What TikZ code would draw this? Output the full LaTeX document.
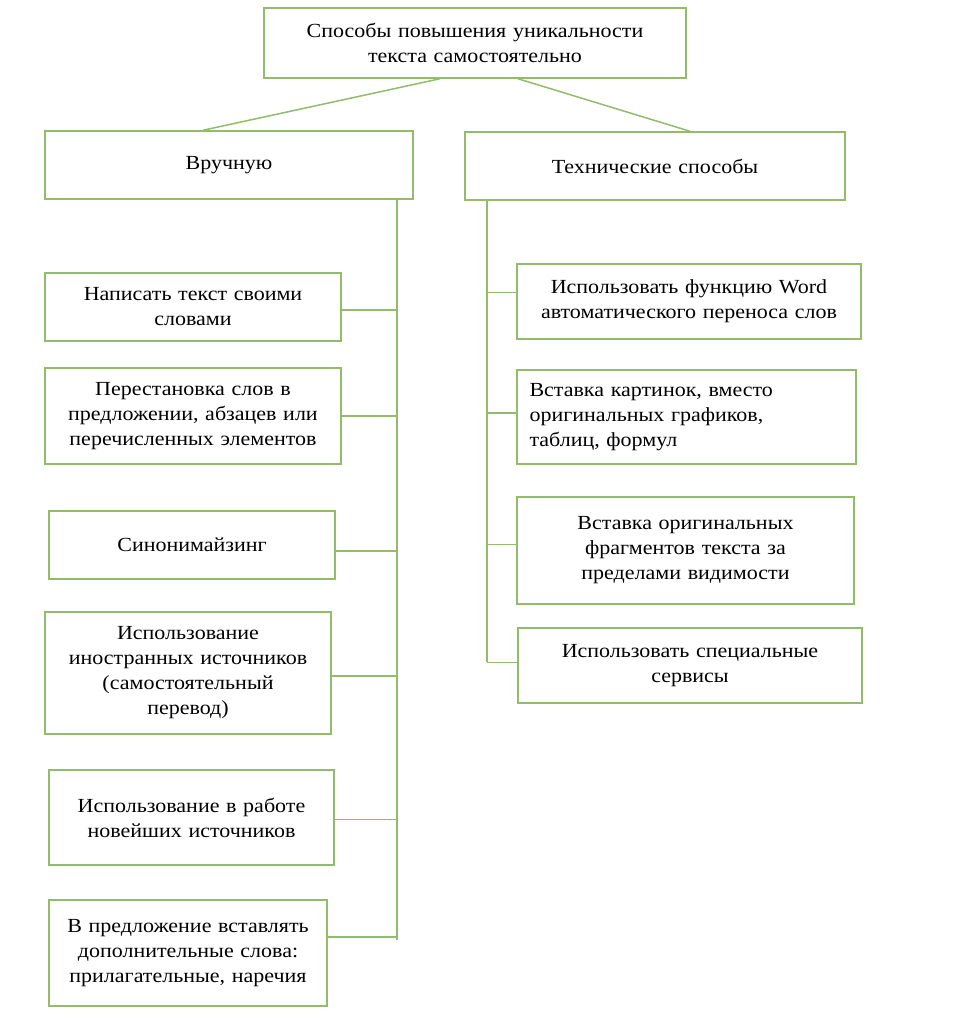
\documentclass[tikz,border=0pt]{standalone}
\usepackage{fontspec}
\setmainfont{Liberation Serif}[FakeStretch=1.1]
\usetikzlibrary{calc}
\definecolor{boxgreen}{RGB}{146,188,108}
\tikzstyle{every node}=[font=\fontsize{20}{25}\selectfont]
\tikzstyle{block} = [rectangle, draw=boxgreen, line width=1.5pt, inner sep=0pt, align=center]
\tikzstyle{link} = [draw=boxgreen, line width=1.5pt]

\begin{document}
\begin{tikzpicture}[x=1pt, y=-1pt]
            \useasboundingbox (0,0) rectangle (956,1029);
            \node (top) [block, minimum width=422pt, minimum height=70pt, text width=410pt] at (475,43) {Способы повышения уникальности\\текста самостоятельно};
            \node (manual) [block, minimum width=368pt, minimum height=68pt, text width=356pt] at (229,165) {Вручную};
            \node (tech) [block, minimum width=380pt, minimum height=68pt, text width=368pt] at (655,166) {Технические способы};
            % ручные способы
            \node (own) [block, minimum width=296pt, minimum height=68pt, text width=284pt] at (193,307) {Написать текст своими\\словами};
            \node (swap) [block, minimum width=296pt, minimum height=96pt, text width=284pt] at (193,416) {Перестановка слов в\\предложении, абзацев или\\перечисленных элементов};
            \node (syn) [block, minimum width=286pt, minimum height=68pt, text width=274pt] at (192,545) {Синонимайзинг};
            \node (foreign) [block, minimum width=286pt, minimum height=122pt, text width=274pt] at (188,673) {Использование\\иностранных источников\\(самостоятельный\\перевод)};
            \node (fresh) [block, minimum width=285pt, minimum height=95pt, text width=273pt] at (191.5,817.5) {Использование в работе\\новейших источников};
            \node (extra) [block, minimum width=278pt, minimum height=106pt, text width=270pt] at (188,953) {В предложение вставлять\\дополнительные слова:\\прилагательные, наречия};
            % технические способы
            \node (hyph) [block, minimum width=344pt, minimum height=75pt, text width=336pt] at (689,301.5) {Использовать функцию Word\\автоматического переноса слов};
            \node (pics) [block, minimum width=339pt, minimum height=94pt, text width=314pt, align=left] at (686.5,417) {Вставка картинок, вместо\\оригинальных графиков,\\таблиц, формул};
            \node (hidden) [block, minimum width=337pt, minimum height=107pt, text width=325pt] at (685.5,550.5) {Вставка оригинальных\\фрагментов текста за\\пределами видимости};
            \node (serv) [block, minimum width=344pt, minimum height=75pt, text width=332pt] at (690,665.5) {Использовать специальные\\сервисы};
            \coordinate (lspine) at (397,940);
            \coordinate (rspine) at (487,662);
            \draw [link] ($(top.south)+(-35,0)$) -- ($(manual.north)+(-26,0)$);
            \draw [link] ($(top.south)+(43,0)$) -- ($(tech.north)+(35,0)$);
            \draw [link] (manual.south -| lspine) -- (lspine);
            \draw [link] (tech.south -| rspine) -- (rspine);
            \draw [link] ([yshift=-3pt]own.east) -- ([yshift=-3pt]own.east -| lspine);
            \draw [link] (swap.east) -- (swap.east -| lspine);
            \draw [link] ([yshift=-6pt]syn.east) -- ([yshift=-6pt]syn.east -| lspine);
            \draw [link] ([yshift=-3pt]foreign.east) -- ([yshift=-3pt]foreign.east -| lspine);
            \draw [link] ([yshift=-2pt]fresh.east) -- ([yshift=-2pt]fresh.east -| lspine);
            \draw [link] ([yshift=16pt]extra.east) -- ([yshift=16pt]extra.east -| lspine);
            \draw [link] ([yshift=9pt]hyph.west) -- ([yshift=9pt]hyph.west -| rspine);
            \draw [link] ([yshift=4pt]pics.west) -- ([yshift=4pt]pics.west -| rspine);
            \draw [link] ([yshift=6pt]hidden.west) -- ([yshift=6pt]hidden.west -| rspine);
            \draw [link] ([yshift=3pt]serv.west) -- ([yshift=3pt]serv.west -| rspine);
          \end{tikzpicture}
\end{document}
